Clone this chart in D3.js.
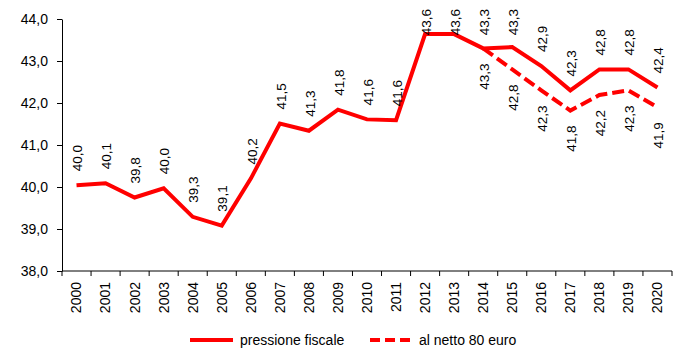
<!DOCTYPE html>
<html>
<head>
<meta charset="utf-8">
<script src="https://cdn.jsdelivr.net/npm/d3@7"></script>
<style>
  html, body { margin: 0; padding: 0; background: #fff; }
  text { font-family: "Liberation Sans", Arial, sans-serif; fill: #000; }
</style>
</head>
<body>
<svg id="chart" width="700" height="361"></svg>
<script>
const years = ["2000","2001","2002","2003","2004","2005","2006","2007","2008","2009","2010",
               "2011","2012","2013","2014","2015","2016","2017","2018","2019","2020"];
const pressione = [40.04, 40.09, 39.75, 39.97, 39.29, 39.08, 40.2, 41.51, 41.34, 41.84, 41.61,
                   41.59, 43.64, 43.64, 43.3, 43.33, 42.88, 42.3, 42.8, 42.8, 42.37];
const nettoYears = ["2014","2015","2016","2017","2018","2019","2020"];
const netto = [43.3, 42.8, 42.3, 41.82, 42.19, 42.3, 41.9];
const yTicks = [38, 39, 40, 41, 42, 43, 44];
const seriesNames = ["pressione fiscale", "al netto 80 euro"];

const svg = d3.select("#chart");
const red = "#ff0000";
const fmt = v => d3.format(".1f")(v).replace(".", ",");

const x = d3.scaleBand().domain(years).range([62, 672]).padding(0);
const y = d3.scaleLinear().domain([38, 44]).range([271, 19]);
const cx = d => x(d) + x.bandwidth() / 2;

// Y axis
const yAxis = svg.append("g").attr("transform", "translate(62,0)")
  .call(d3.axisLeft(y).tickValues(yTicks).tickFormat(fmt).tickSizeInner(5).tickSizeOuter(0).tickPadding(9));
yAxis.selectAll("text").style("font-size", "14px").style("font-family", "'Liberation Sans', Arial, sans-serif");
yAxis.select(".domain").attr("stroke", "#000");

// X axis: ticks at category boundaries
const xg = svg.append("g").attr("transform", "translate(0,271)");
xg.append("line").attr("x1", 62).attr("x2", 672).attr("y1", 0).attr("y2", 0).attr("stroke", "#000");
const bounds = years.map(d => x(d)).concat([x(years[years.length - 1]) + x.bandwidth()]);
xg.selectAll("line.tk").data(bounds).enter().append("line").attr("class", "tk")
  .attr("x1", d => d).attr("x2", d => d).attr("y1", 0).attr("y2", 5).attr("stroke", "#000");
xg.selectAll("text.yl").data(years).enter().append("text").attr("class", "yl")
  .attr("transform", d => `translate(${cx(d)},11) rotate(-90)`)
  .attr("text-anchor", "end").attr("dy", "0.35em")
  .style("font-size", "14px").text(d => d);

// Lines
const line = d3.line().x(d => cx(d[0])).y(d => y(d[1]));
const solidData = years.map((d, i) => [d, pressione[i]]);
const dashData = nettoYears.map((d, i) => [d, netto[i]]);

svg.append("path").datum(dashData).attr("d", line)
  .attr("fill", "none").attr("stroke", red).attr("stroke-width", 4)
  .attr("stroke-dasharray", "12,5");
svg.append("path").datum(solidData).attr("d", line)
  .attr("fill", "none").attr("stroke", red).attr("stroke-width", 4)
  .attr("stroke-linejoin", "miter");

// Labels solid (above)
svg.selectAll("text.ls").data(solidData).enter().append("text").attr("class", "ls")
  .style("font-size", "13.5px").attr("text-anchor", "start").attr("dy", "0.35em")
  .text(d => fmt(d[1]))
  .each(function(d) {
    const len = this.getComputedTextLength();
    let start = y(d[1]) - 14;
    if (start - len < 9) start = 9 + len;
    d3.select(this).attr("transform", `translate(${cx(d[0]) + 1},${start}) rotate(-90)`);
  });

// Labels dashed (below)
svg.selectAll("text.ld").data(dashData).enter().append("text").attr("class", "ld")
  .style("font-size", "13.5px").attr("text-anchor", "end").attr("dy", "0.35em")
  .attr("transform", d => `translate(${cx(d[0]) + 1},${y(d[1]) + 15}) rotate(-90)`)
  .text(d => fmt(d[1]));

// Legend
const lg = svg.append("g");
lg.append("line").attr("x1", 190).attr("x2", 233).attr("y1", 340).attr("y2", 340)
  .attr("stroke", red).attr("stroke-width", 4);
lg.append("text").attr("x", 240).attr("y", 340).attr("dy", "0.35em")
  .style("font-size", "14px").text(seriesNames[0]);
lg.append("line").attr("x1", 370).attr("x2", 412).attr("y1", 340).attr("y2", 340)
  .attr("stroke", red).attr("stroke-width", 4).attr("stroke-dasharray", "10,5");
lg.append("text").attr("x", 419).attr("y", 340).attr("dy", "0.35em")
  .style("font-size", "14px").text(seriesNames[1]);
</script>
</body>
</html>
